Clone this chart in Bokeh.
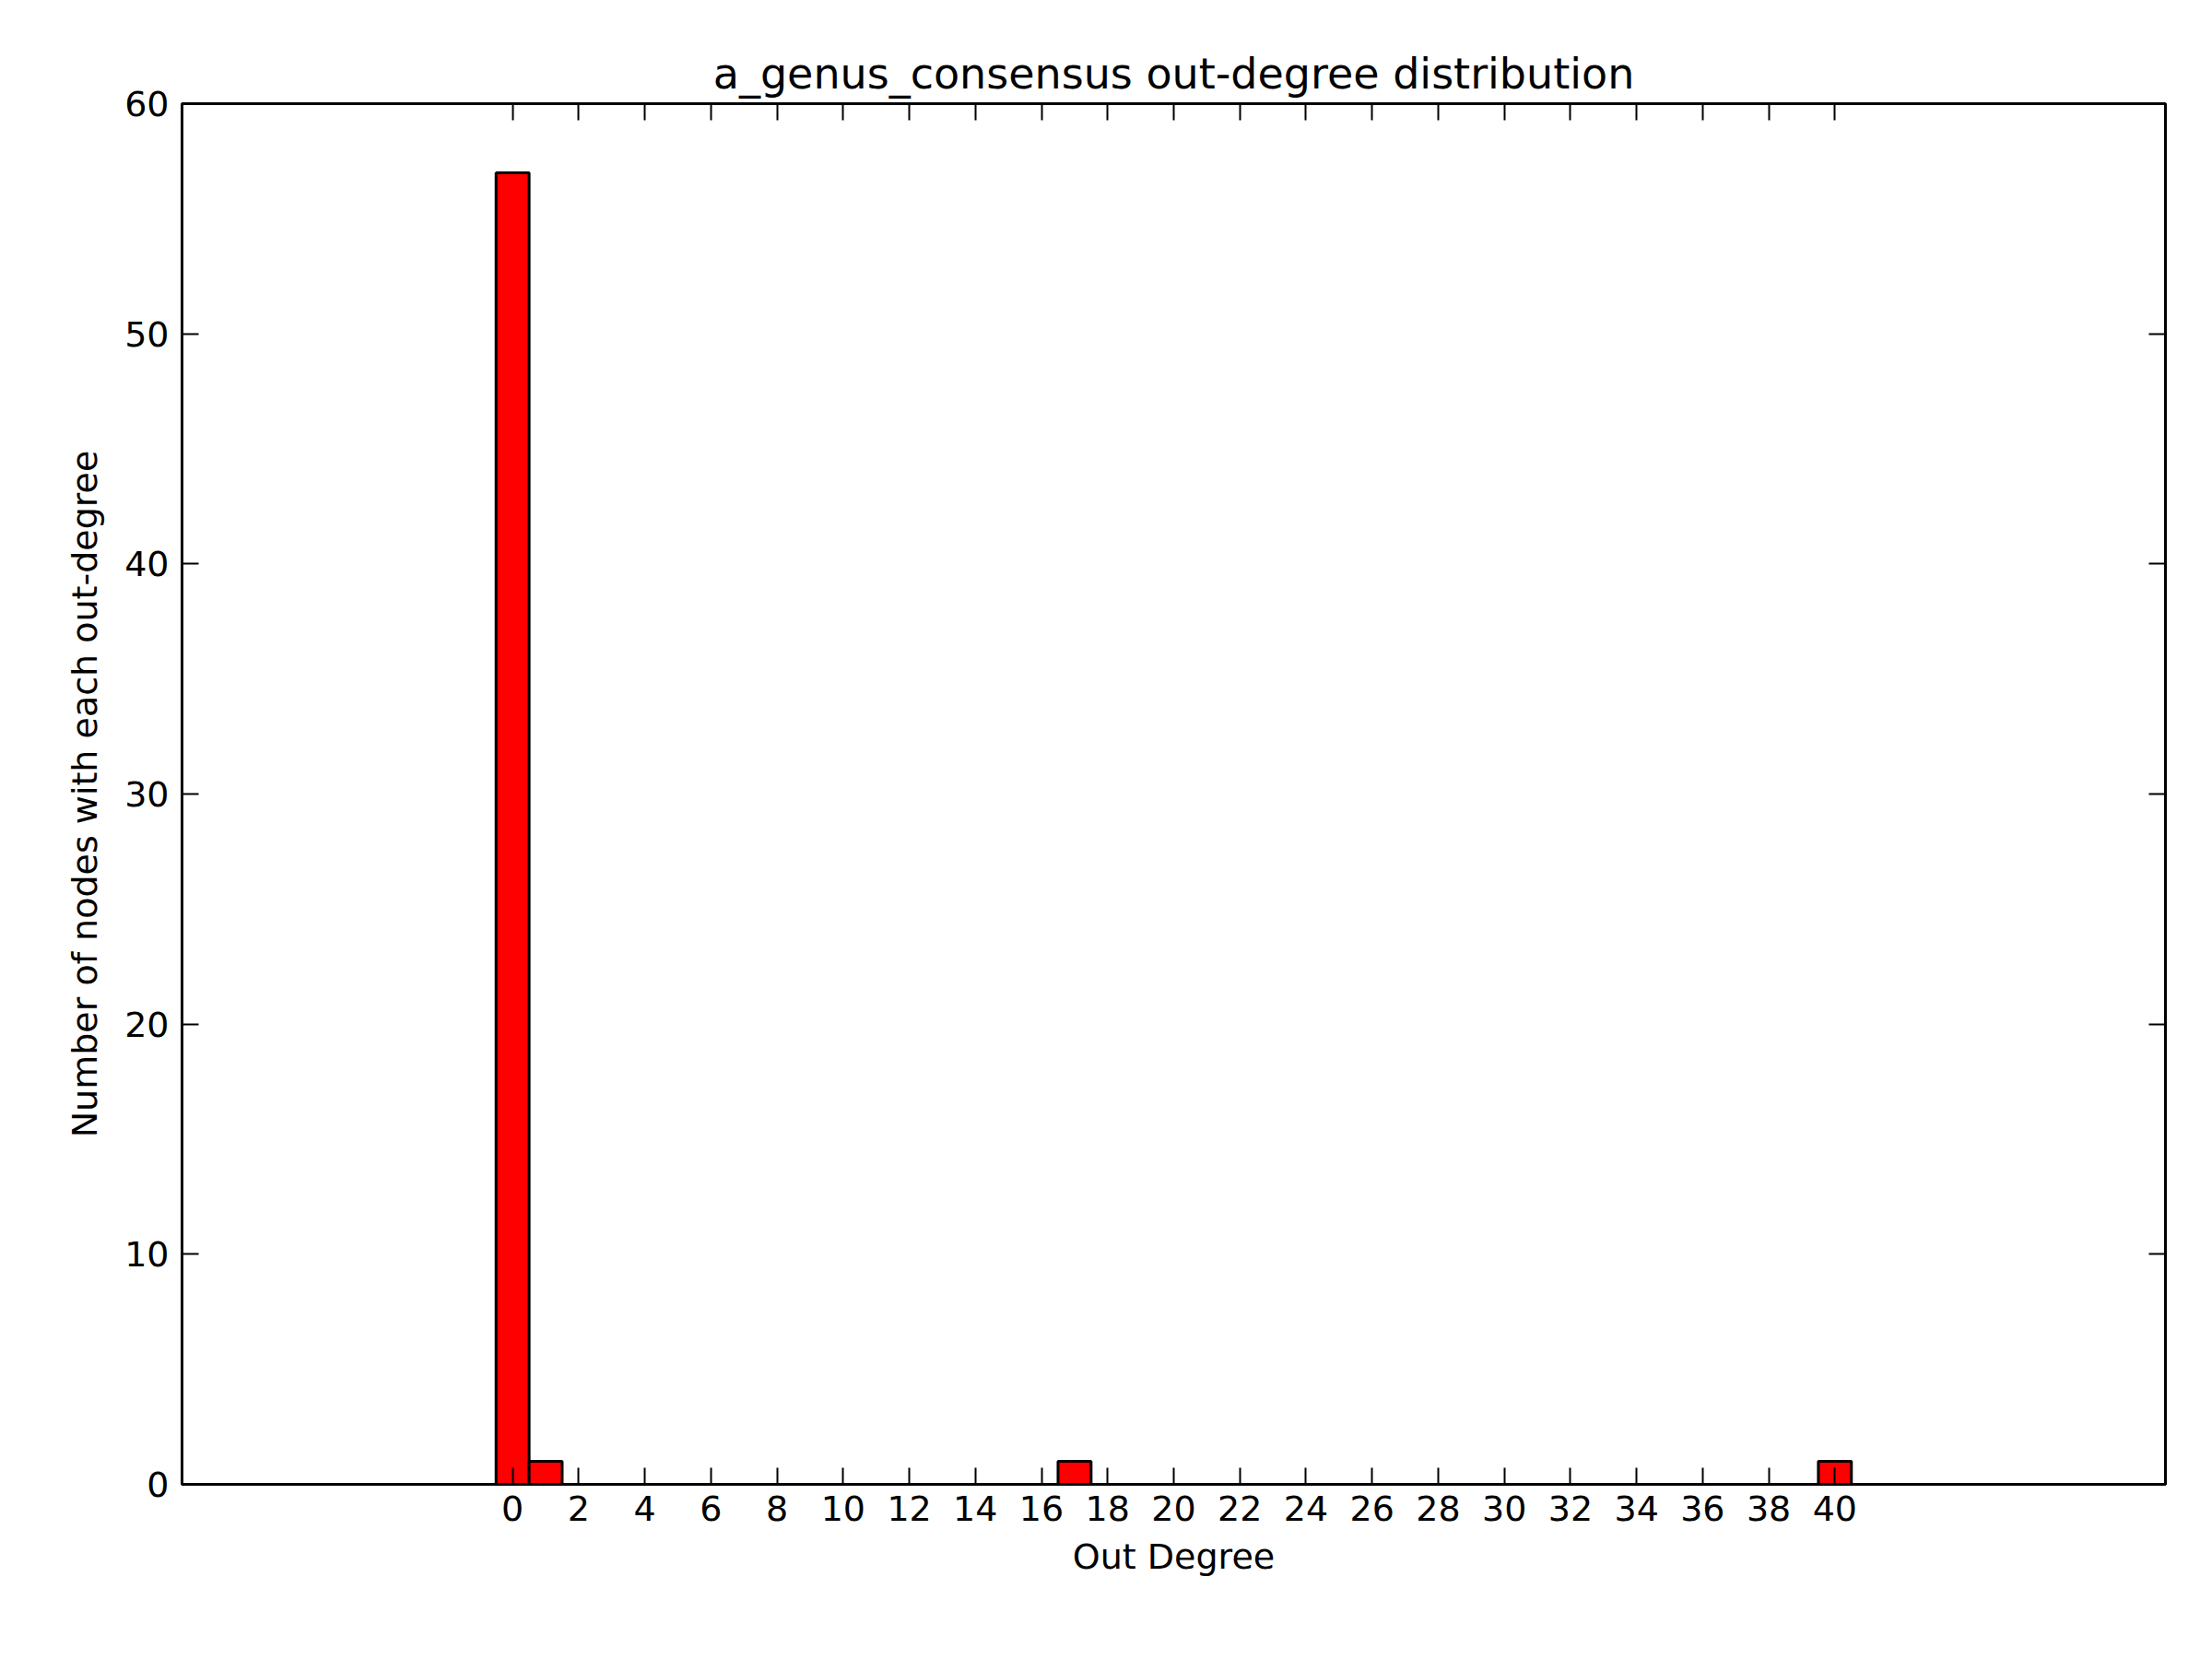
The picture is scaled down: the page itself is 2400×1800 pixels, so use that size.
from bokeh.embed import file_html
from bokeh.resources import INLINE
from bokeh.models import LinearAxis, FixedTicker, Range1d, CustomJSTickFormatter
from bokeh.plotting import figure

degrees = [0, 1, 17, 40]
counts = [57, 1, 1, 1]
x_ticks = list(range(0, 41, 2))
y_ticks = [0, 10, 20, 30, 40, 50, 60]

FONT = "DejaVu Sans"

p = figure(
    frame_width=2152, frame_height=1498,
    x_range=Range1d(-10, 50), y_range=Range1d(0, 60),
    output_backend="svg", toolbar_location=None,
    title="a_genus_consensus out-degree distribution",
    min_border_left=197, min_border_right=35, min_border_bottom=165, min_border_top=112,
)
p.vbar(x=degrees, top=counts, width=1, bottom=0,
       fill_color="red", line_color="black", line_width=3)

p.title.text_font = FONT
p.title.text_font_size = "46px"
p.title.text_font_style = "normal"
p.title.text_color = "black"
p.title.align = "center"
p.title.offset = 0
p.title.standoff = 12

p.grid.visible = False
p.outline_line_color = "black"
p.outline_line_width = 3

p.xaxis.axis_label = "Out Degree"
p.yaxis.axis_label = "Number of nodes with each out-degree"
p.xaxis.ticker = FixedTicker(ticks=x_ticks)
p.yaxis.ticker = FixedTicker(ticks=y_ticks)

for ax in [p.xaxis[0], p.yaxis[0]]:
    ax.axis_label_text_font = FONT
    ax.axis_label_text_font_size = "38px"
    ax.axis_label_text_font_style = "normal"
    ax.axis_label_text_color = "black"
    ax.major_label_text_font = FONT
    ax.major_label_text_font_size = "38px"
    ax.major_label_text_color = "black"
    ax.axis_line_width = 3
    ax.major_tick_in = 18
    ax.major_tick_out = 0
    ax.minor_tick_line_color = None
    ax.major_tick_line_width = 2
p.xaxis.major_label_standoff = 12
p.yaxis.major_label_standoff = 14
p.xaxis.axis_label_standoff = 14
p.yaxis.axis_label_standoff = 18

blank = CustomJSTickFormatter(code="return ''")
for side, ticks in [("right", y_ticks), ("above", x_ticks)]:
    a = LinearAxis(ticker=FixedTicker(ticks=ticks), formatter=blank,
                   major_tick_in=18, major_tick_out=0, minor_tick_line_color=None,
                   major_label_standoff=0, axis_line_width=3, major_tick_line_width=2)
    p.add_layout(a, side)

open("out.html", "w").write(file_html(p, INLINE))
